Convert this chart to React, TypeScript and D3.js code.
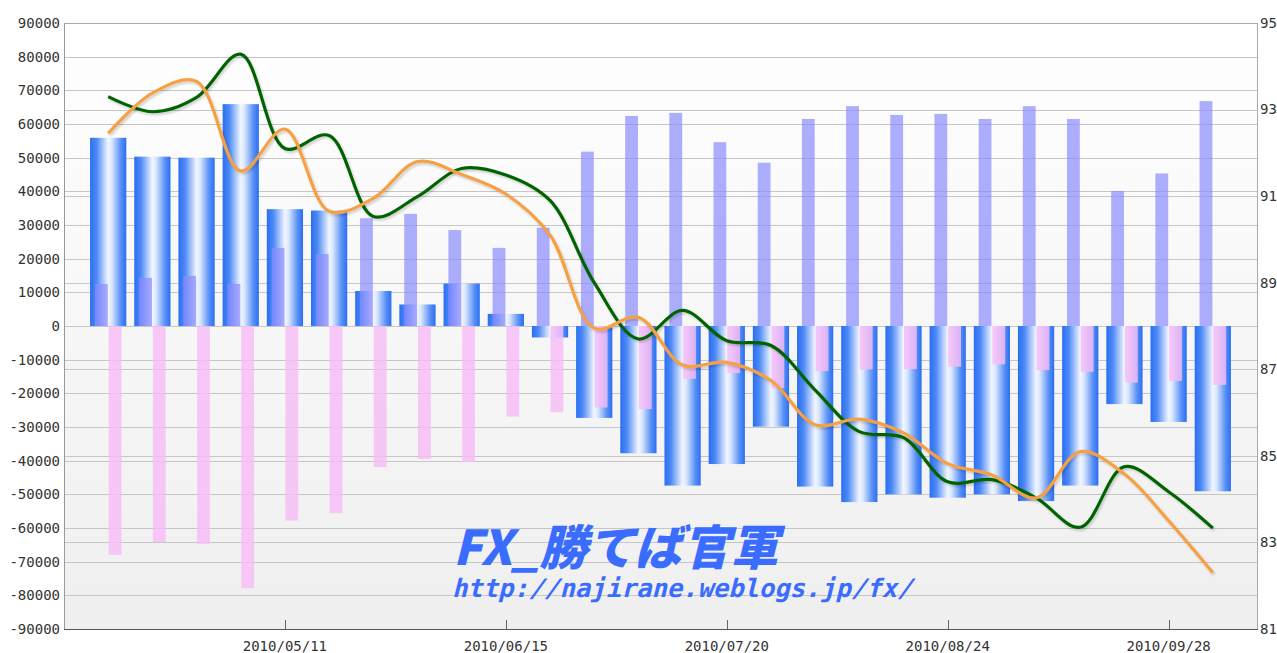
import { useRef, useEffect } from 'react'
import * as d3 from 'd3'

// weekly dates (categories)
const dates = [
  '2010/04/13', '2010/04/20', '2010/04/27', '2010/05/04', '2010/05/11', '2010/05/18',
  '2010/05/25', '2010/06/01', '2010/06/08', '2010/06/15', '2010/06/22', '2010/06/29',
  '2010/07/06', '2010/07/13', '2010/07/20', '2010/07/27', '2010/08/03', '2010/08/10',
  '2010/08/17', '2010/08/24', '2010/08/31', '2010/09/07', '2010/09/14', '2010/09/21',
  '2010/09/28', '2010/10/05',
]
const dateLabels = ['2010/05/11', '2010/06/15', '2010/07/20', '2010/08/24', '2010/09/28']

// wide blue bars
const netPositions = [
  55900, 50300, 50000, 65900, 34700, 34300, 10400, 6400, 12600, 3600, -3400, -27300, -37800,
  -47400, -41000, -29900, -47700, -52300, -50000, -51000, -50000, -52000, -47400, -23200, -28500, -49100,
]
// narrow purple bars
const longPositions = [
  12500, 14300, 14900, 12500, 23200, 21400, 32000, 33300, 28500, 23200, 29200, 51800, 62400,
  63300, 54600, 48500, 61500, 65300, 62700, 63000, 61500, 65300, 61500, 40100, 45300, 66800,
]
// narrow pink bars
const shortPositions = [
  -68000, -64200, -64700, -77900, -57800, -55600, -41900, -39500, -40400, -26900, -25600, -24200, -24700,
  -15700, -14000, -18500, -13400, -12900, -12800, -12100, -11400, -13100, -13600, -16800, -16300, -17500,
]
// right axis lines
const greenRate = [
  93.3, 92.95, 93.28, 94.28, 92.1, 92.4, 90.53, 90.99, 91.64, 91.49, 90.9, 89.0, 87.7,
  88.36, 87.66, 87.55, 86.52, 85.56, 85.42, 84.4, 84.45, 84.03, 83.35, 84.75, 84.17, 83.33,
]
const orangeRate = [
  92.45, 93.38, 93.65, 91.58, 92.55, 90.65, 90.95, 91.8, 91.5, 91.05, 90.1, 87.95, 88.2,
  87.1, 87.16, 86.74, 85.72, 85.85, 85.53, 84.82, 84.56, 84.03, 85.1, 84.58, 83.5, 82.3,
]

const leftTicks = [
  -90000, -80000, -70000, -60000, -50000, -40000, -30000, -20000, -10000, 0,
  10000, 20000, 30000, 40000, 50000, 60000, 70000, 80000, 90000,
]
const rightTicks = [81, 83, 85, 87, 89, 91, 93, 95]

const App = () => {
  const svgRef = useRef<SVGSVGElement>(null)

  useEffect(() => {
    const W = 1277
    const H = 653
    const left = 64, right = 1257, top = 23, bottom = 629
    const font = '"DejaVu Sans Mono", monospace'

    const svg = d3.select(svgRef.current)
    svg.selectAll('*').remove()
    svg.attr('width', W).attr('height', H)

    const x = d3.scaleBand<string>().domain(dates).range([left, right]).paddingInner(0).paddingOuter(0.5)
    const y = d3.scaleLinear().domain([-90000, 90000]).range([bottom, top])
    const y2 = d3.scaleLinear().domain([81, 95]).range([bottom, top])
    const cx = (d: string) => (x(d) as number) + x.bandwidth() / 2
    const step = x.step()

    const defs = svg.append('defs')
    const bg = defs.append('linearGradient').attr('id', 'bg').attr('x1', 0).attr('x2', 0).attr('y1', 0).attr('y2', 1)
    bg.append('stop').attr('offset', '0%').attr('stop-color', '#ffffff')
    bg.append('stop').attr('offset', '100%').attr('stop-color', '#efefef')

    const barGrad = defs.append('linearGradient').attr('id', 'blueBar').attr('x1', 0).attr('x2', 1).attr('y1', 0).attr('y2', 0)
    ;[
      ['0%', '#2a6ef2'], ['18%', '#4d8af6'], ['50%', '#f2f6ff'], ['60%', '#dae7fd'],
      ['85%', '#5890f6'], ['100%', '#2a6ef2'],
    ].forEach(([o, c]) => barGrad.append('stop').attr('offset', o).attr('stop-color', c))

    const shadow = defs.append('filter').attr('id', 'shadow').attr('x', '-5%').attr('y', '-5%').attr('width', '110%').attr('height', '110%')
    shadow.append('feDropShadow').attr('dx', 1.5).attr('dy', 2).attr('stdDeviation', 1)
      .attr('flood-color', '#000').attr('flood-opacity', 0.18)

    // plot background
    svg.append('rect').attr('x', left).attr('y', top).attr('width', right - left).attr('height', bottom - top)
      .attr('fill', 'url(#bg)')

    // grid lines
    const grid = svg.append('g').attr('stroke', '#c6c6c6').attr('stroke-width', 1)
    leftTicks.forEach(t => {
      grid.append('line').attr('x1', left).attr('x2', right)
        .attr('y1', Math.round(y(t)) + 0.5).attr('y2', Math.round(y(t)) + 0.5)
    })
    rightTicks.forEach(t => {
      grid.append('line').attr('x1', left).attr('x2', right)
        .attr('y1', Math.round(y2(t)) + 0.5).attr('y2', Math.round(y2(t)) + 0.5)
    })

    // watermark
    svg.append('text')
      .attr('transform', 'translate(453,565) skewX(-14)')
      .attr('font-family', '"Noto Sans CJK JP", sans-serif')
      .attr('font-weight', 900).attr('font-size', 48).attr('fill', '#3a6cff')
      .text('FX_勝てば官軍')
    svg.append('text')
      .attr('transform', 'translate(452,597) skewX(-14)')
      .attr('font-family', font).attr('font-weight', 'bold').attr('font-size', 25.5).attr('fill', '#3a6cff')
      .text('http://najirane.weblogs.jp/fx/')

    // wide net bars
    svg.append('g').selectAll('rect').data(netPositions).enter().append('rect')
      .attr('x', (_, i) => cx(dates[i]) - step * 0.41)
      .attr('width', step * 0.82)
      .attr('y', d => y(Math.max(0, d)))
      .attr('height', d => Math.abs(y(d) - y(0)))
      .attr('fill', 'url(#blueBar)')

    // long bars
    svg.append('g').selectAll('rect').data(longPositions).enter().append('rect')
      .attr('x', (_, i) => cx(dates[i]) - step * 0.3)
      .attr('width', step * 0.29)
      .attr('y', d => y(d))
      .attr('height', d => y(0) - y(d))
      .attr('fill', '#8c8cff').attr('fill-opacity', 0.7)

    // short bars
    svg.append('g').selectAll('rect').data(shortPositions).enter().append('rect')
      .attr('x', (_, i) => cx(dates[i]) + 0.5)
      .attr('width', step * 0.29)
      .attr('y', y(0))
      .attr('height', d => y(d) - y(0))
      .attr('fill', '#f7bcf7').attr('fill-opacity', 0.82)

    // lines
    const line = d3.line<number>()
      .x((_, i) => cx(dates[i]))
      .y(d => y2(d))
      .curve(d3.curveCatmullRom.alpha(0.5))
    svg.append('path').datum(greenRate).attr('d', line).attr('fill', 'none')
      .attr('stroke', '#056405').attr('stroke-width', 3.2).attr('filter', 'url(#shadow)')
    svg.append('path').datum(orangeRate).attr('d', line).attr('fill', 'none')
      .attr('stroke', '#f6a044').attr('stroke-width', 3.2).attr('filter', 'url(#shadow)')

    // frame
    svg.append('line').attr('x1', left).attr('x2', right).attr('y1', top + 0.5).attr('y2', top + 0.5).attr('stroke', '#aaaaaa')
    svg.append('line').attr('x1', left + 0.5).attr('x2', left + 0.5).attr('y1', top).attr('y2', bottom).attr('stroke', '#999999')
    svg.append('line').attr('x1', right + 0.5).attr('x2', right + 0.5).attr('y1', top).attr('y2', bottom).attr('stroke', '#aaaaaa')
    svg.append('line').attr('x1', left).attr('x2', right + 1).attr('y1', bottom + 0.5).attr('y2', bottom + 0.5).attr('stroke', '#555555')

    // left axis labels
    svg.append('g').selectAll('text').data(leftTicks).enter().append('text')
      .attr('x', 60).attr('y', d => y(d)).attr('dy', '0.35em')
      .attr('text-anchor', 'end').attr('font-family', font).attr('font-size', 14).attr('fill', '#333')
      .text(d => String(d))

    // right axis labels
    svg.append('g').selectAll('text').data(rightTicks).enter().append('text')
      .attr('x', 1260).attr('y', d => y2(d)).attr('dy', '0.35em')
      .attr('font-family', font).attr('font-size', 14).attr('fill', '#333')
      .text(d => String(d))

    // x ticks and labels
    const xg = svg.append('g')
    dateLabels.forEach(lbl => {
      const px = Math.round(cx(lbl)) + 0.5
      xg.append('line').attr('x1', px).attr('x2', px).attr('y1', bottom - 9).attr('y2', bottom).attr('stroke', '#666')
      xg.append('text').attr('x', cx(lbl)).attr('y', 651)
        .attr('text-anchor', 'middle').attr('font-family', font).attr('font-size', 14).attr('fill', '#333')
        .text(lbl)
    })
  }, [])

  return (
    <svg ref={svgRef} style={{ position: 'absolute', left: 0, top: 0, display: 'block' }}></svg>
  )
}

export default App
